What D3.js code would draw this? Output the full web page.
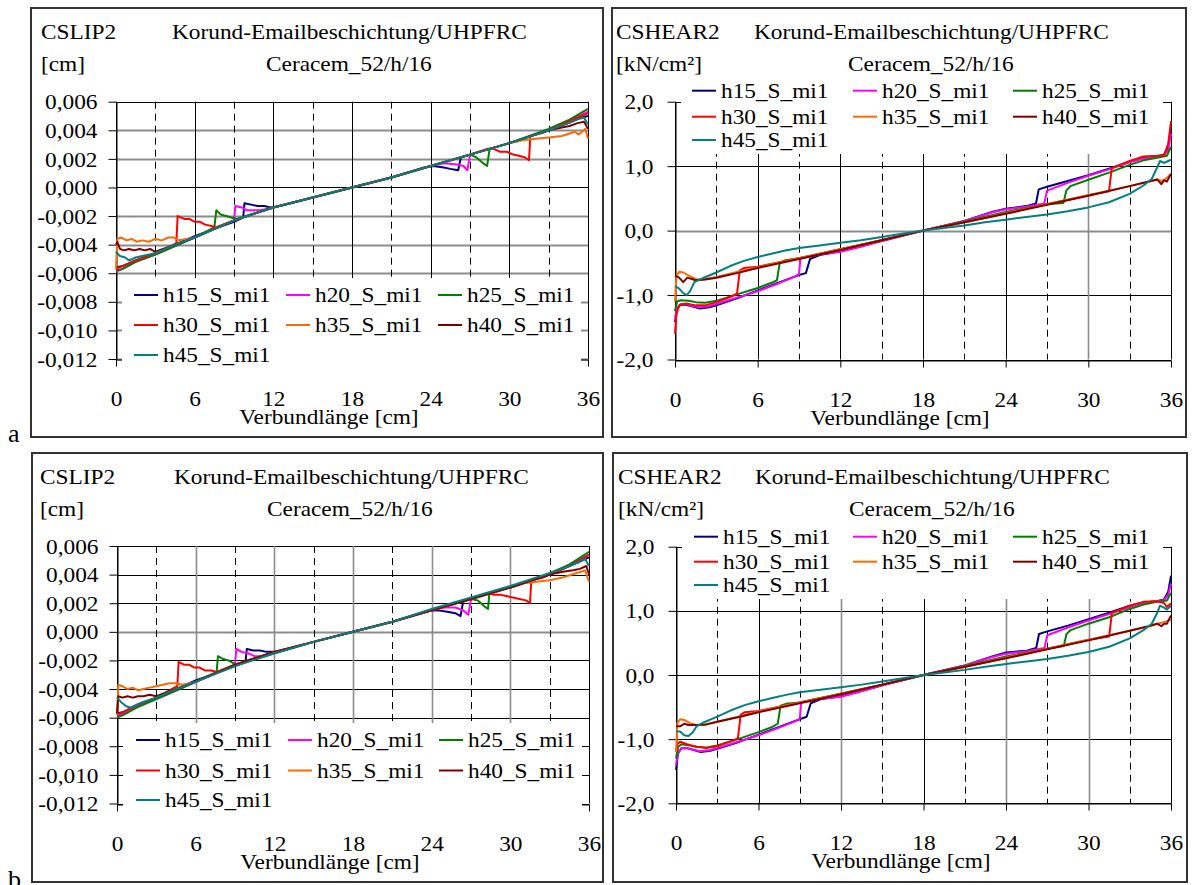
<!DOCTYPE html>
<html><head><meta charset="utf-8">
<script src="https://cdn.jsdelivr.net/npm/d3@7"></script>
<style>
body{margin:0;background:#fff}
svg{display:block}
text{font-family:"Liberation Serif","Times New Roman",serif;fill:#000}
</style>
</head><body><svg id="c" width="1193" height="885"></svg>
<script>
// ---------------- data ----------------
const xTicks = [0, 6, 12, 18, 24, 30, 36];
const xDashed = [3, 9, 15, 21, 27, 33];
const slipTicks = [0.006, 0.004, 0.002, 0, -0.002, -0.004, -0.006, -0.008, -0.010, -0.012];
const shearTicks = [2, 1, 0, -1, -2];
const seriesNames = ["h15_S_mi1", "h20_S_mi1", "h25_S_mi1", "h30_S_mi1", "h35_S_mi1", "h40_S_mi1", "h45_S_mi1"];
const seriesColors = ["#000080", "#ff00ff", "#008000", "#ff0000", "#ff6a00", "#800000", "#008080"];

// panel a, slip [cm]
const slipA_h15 = [[0,-0.0056],[0.5,-0.0055],[1.5,-0.0051],[3,-0.0046],[4.5,-0.0040],[6,-0.0034],[7.5,-0.0029],[9,-0.0024],[9.7,-0.0021],[9.8,-0.0011],[10.3,-0.0012],[10.8,-0.0013],[11.3,-0.0013],[11.8,-0.0014],[12.5,-0.0013],[15,-0.0007],[18,0],[21,0.0007],[23.5,0.0014],[24.2,0.0015],[25,0.0014],[25.5,0.0013],[26.1,0.0012],[26.3,0.0021],[27,0.0023],[30,0.0031],[33,0.0040],[34.5,0.0045],[35.5,0.0049],[36,0.0050]];
const slipA_h20 = [[0,-0.0059],[0.5,-0.0057],[1.5,-0.0052],[3,-0.0047],[4.5,-0.0041],[6,-0.0035],[7.5,-0.0029],[9,-0.0023],[9.1,-0.0013],[9.6,-0.0014],[10,-0.0016],[10.4,-0.0016],[11,-0.0016],[11.5,-0.0015],[12,-0.0014],[15,-0.0007],[18,0],[21,0.0007],[24,0.0015],[25,0.0017],[26,0.0016],[26.5,0.0015],[26.8,0.0012],[27,0.0023],[30,0.0031],[33,0.0040],[34.5,0.0046],[36,0.0053]];
const slipA_h25 = [[0,-0.0058],[0.5,-0.0057],[1.5,-0.0052],[3,-0.0047],[4.5,-0.0041],[6,-0.0035],[7.5,-0.0028],[7.65,-0.0016],[8,-0.0019],[8.4,-0.0020],[8.8,-0.0021],[9.2,-0.0022],[12,-0.0014],[15,-0.0007],[18,0],[21,0.0007],[24,0.0015],[27,0.0023],[27.5,0.0021],[28,0.0017],[28.3,0.0015],[28.5,0.0027],[30,0.0031],[33,0.0041],[34.5,0.0047],[36,0.0055]];
const slipA_h30 = [[0,-0.0057],[0.5,-0.0055],[1.5,-0.0051],[3,-0.0046],[4,-0.0042],[4.6,-0.0039],[4.7,-0.0020],[5.2,-0.0022],[5.6,-0.0022],[6,-0.0024],[6.4,-0.0024],[6.8,-0.0026],[7.3,-0.0027],[7.6,-0.0028],[9,-0.0023],[12,-0.0014],[15,-0.0007],[18,0],[21,0.0007],[24,0.0015],[27,0.0023],[28.3,0.0027],[28.8,0.0027],[29.3,0.0025],[29.8,0.0025],[30.3,0.0023],[30.8,0.0022],[31.2,0.0021],[31.5,0.0019],[31.6,0.0036],[32.5,0.0038],[33,0.0040],[34.5,0.0046],[35.5,0.0050],[36,0.0052]];
const slipA_h35 = [[0,-0.0057],[0.1,-0.0036],[0.4,-0.0035],[0.8,-0.0037],[1.2,-0.0036],[1.6,-0.0038],[2,-0.0037],[2.5,-0.0038],[3,-0.0036],[3.5,-0.0037],[4,-0.0035],[4.4,-0.0035],[4.8,-0.0037],[6,-0.0035],[9,-0.0023],[12,-0.0014],[15,-0.0007],[18,0],[21,0.0007],[24,0.0015],[27,0.0023],[30,0.0031],[31,0.0033],[32,0.0034],[33,0.0035],[34,0.0036],[35,0.0039],[35.3,0.0037],[35.8,0.0041],[36,0.0034]];
const slipA_h40 = [[0,-0.0040],[0.1,-0.0038],[0.3,-0.0043],[0.6,-0.0044],[1,-0.0043],[1.4,-0.0044],[1.8,-0.0043],[2.2,-0.0044],[2.6,-0.0043],[3,-0.0045],[4.5,-0.0040],[6,-0.0035],[9,-0.0023],[12,-0.0014],[15,-0.0007],[18,0],[21,0.0007],[24,0.0015],[27,0.0023],[30,0.0031],[33,0.0040],[34,0.0042],[34.6,0.0043],[35.2,0.0045],[35.7,0.0046],[36,0.0041]];
const slipA_h45 = [[0,-0.0045],[0.3,-0.0048],[0.7,-0.0049],[1,-0.0051],[1.5,-0.0049],[2,-0.0048],[3,-0.0046],[4.5,-0.0040],[6,-0.0035],[9,-0.0023],[12,-0.0014],[15,-0.0007],[18,0],[21,0.0007],[24,0.0015],[27,0.0023],[30,0.0031],[33,0.0040],[34.5,0.0045],[35.3,0.0048],[35.7,0.0049],[36,0.0044]];

// panel a, shear [kN/cm²]
const shearA_h15 = [[0,-1.42],[0.15,-1.22],[0.4,-1.15],[0.8,-1.15],[1.3,-1.18],[1.8,-1.21],[2.5,-1.19],[3,-1.16],[4.5,-1.05],[6,-0.93],[7.5,-0.81],[9,-0.69],[9.5,-0.66],[9.8,-0.44],[10.5,-0.38],[12,-0.32],[13.5,-0.24],[15,-0.16],[18,0],[21,0.15],[23,0.29],[24,0.34],[25.5,0.38],[26.2,0.42],[26.4,0.64],[27,0.68],[28.5,0.77],[30,0.86],[31.5,0.96],[33,1.07],[34,1.13],[35,1.15],[35.5,1.18],[35.8,1.3],[36,1.6]];
const shearA_h20 = [[0,-1.35],[0.15,-1.2],[0.4,-1.14],[0.8,-1.14],[1.3,-1.17],[1.8,-1.19],[2.5,-1.17],[3,-1.14],[4.5,-1.04],[6,-0.94],[7.5,-0.82],[8.7,-0.71],[9,-0.68],[9.1,-0.43],[10.5,-0.37],[12,-0.33],[13.5,-0.25],[15,-0.16],[18,0],[21,0.15],[23,0.28],[24,0.33],[25.5,0.37],[26.8,0.42],[27,0.62],[28.5,0.74],[30,0.85],[31.5,0.95],[33,1.06],[34,1.12],[35,1.15],[35.5,1.17],[35.8,1.25],[36,1.5]];
const shearA_h25 = [[0,-1.25],[0.15,-1.1],[0.4,-1.08],[1,-1.09],[1.5,-1.11],[2.2,-1.12],[3,-1.09],[4.5,-0.99],[6,-0.89],[7,-0.81],[7.4,-0.77],[7.6,-0.5],[8,-0.46],[9,-0.43],[12,-0.29],[15,-0.15],[18,0],[21,0.14],[24,0.29],[27,0.41],[28.2,0.43],[28.4,0.62],[28.7,0.69],[30,0.79],[31.5,0.9],[33,1.02],[34,1.09],[35,1.13],[35.7,1.16],[36,1.3]];
const shearA_h30 = [[0,-1.6],[0.1,-1.3],[0.3,-1.16],[0.8,-1.13],[1.5,-1.16],[2.2,-1.16],[3,-1.11],[4,-1.03],[4.5,-0.98],[4.7,-0.62],[5,-0.58],[6,-0.56],[9,-0.43],[12,-0.29],[15,-0.15],[18,0],[21,0.13],[24,0.27],[27,0.41],[30,0.55],[31.5,0.61],[31.7,0.97],[32.3,1.02],[33,1.08],[34,1.15],[35,1.16],[35.5,1.17],[35.8,1.35],[36,1.7]];
const shearA_h35 = [[0,-1.1],[0.1,-0.7],[0.3,-0.64],[0.6,-0.65],[1,-0.7],[1.5,-0.75],[2,-0.76],[3,-0.72],[4.5,-0.64],[6,-0.57],[7.5,-0.5],[9,-0.43],[12,-0.29],[15,-0.15],[18,0],[21,0.13],[24,0.27],[27,0.41],[30,0.55],[33,0.69],[34.5,0.76],[35,0.8],[35.3,0.77],[35.6,0.8],[36,0.88]];
const shearA_h40 = [[0,-0.7],[0.3,-0.73],[0.6,-0.8],[0.9,-0.73],[1.5,-0.77],[2.2,-0.76],[3,-0.73],[4.5,-0.66],[6,-0.58],[9,-0.44],[12,-0.3],[15,-0.15],[18,0],[21,0.13],[24,0.26],[27,0.4],[30,0.54],[33,0.69],[34.5,0.77],[35,0.79],[35.3,0.72],[35.5,0.78],[35.7,0.76],[36,0.88]];
const shearA_h45 = [[0,-0.86],[0.3,-0.9],[0.6,-0.97],[0.85,-1.0],[1.1,-0.94],[1.4,-0.8],[2,-0.74],[3,-0.65],[4,-0.55],[5,-0.47],[6,-0.41],[7,-0.36],[8,-0.31],[9,-0.27],[10.5,-0.23],[12,-0.19],[13.5,-0.15],[15,-0.1],[16.5,-0.05],[18,0],[19.5,0.04],[21,0.08],[22.5,0.13],[24,0.17],[25.5,0.21],[27,0.25],[28.5,0.3],[30,0.36],[31.5,0.44],[33,0.57],[34,0.7],[34.6,0.8],[35,0.98],[35.2,1.08],[35.5,1.05],[35.8,1.08],[36,1.1]];

// panel b, slip [cm]
const slipB_h15 = [[0,-0.0057],[0.5,-0.0056],[1.5,-0.0052],[3,-0.0046],[4.5,-0.0040],[6,-0.0034],[7.5,-0.0029],[9,-0.0024],[9.8,-0.0021],[9.9,-0.0012],[10.4,-0.0013],[10.9,-0.0013],[11.4,-0.0014],[12,-0.0014],[13,-0.0012],[15,-0.0007],[18,0],[21,0.0007],[23.8,0.0015],[24.5,0.0015],[25.2,0.0014],[25.8,0.0013],[26.2,0.0011],[26.4,0.0021],[27,0.0023],[30,0.0031],[33,0.0040],[34.5,0.0046],[35.5,0.0050],[36,0.0052]];
const slipB_h20 = [[0,-0.0059],[0.5,-0.0057],[1.5,-0.0052],[3,-0.0047],[4.5,-0.0041],[6,-0.0035],[7.5,-0.0029],[9,-0.0023],[9.1,-0.0012],[9.5,-0.0014],[10,-0.0015],[10.5,-0.0017],[11,-0.0017],[11.5,-0.0016],[12,-0.0015],[15,-0.0007],[18,0],[21,0.0007],[24,0.0015],[25,0.0017],[25.8,0.0017],[26.4,0.0015],[26.8,0.0012],[27,0.0023],[30,0.0031],[33,0.0040],[34.5,0.0047],[36,0.0054]];
const slipB_h25 = [[0,-0.0060],[0.5,-0.0058],[1.5,-0.0053],[3,-0.0047],[4.5,-0.0041],[6,-0.0035],[7.6,-0.0028],[7.7,-0.0017],[8.1,-0.0019],[8.5,-0.0020],[8.9,-0.0022],[9.2,-0.0023],[12,-0.0015],[15,-0.0007],[18,0],[21,0.0007],[24,0.0015],[27,0.0023],[27.5,0.0022],[28,0.0018],[28.3,0.0016],[28.4,0.0027],[30,0.0031],[33,0.0041],[34.5,0.0047],[36,0.0056]];
const slipB_h30 = [[0,-0.0058],[0.5,-0.0056],[1.5,-0.0051],[3,-0.0046],[4,-0.0041],[4.6,-0.0038],[4.7,-0.0021],[5.1,-0.0023],[5.5,-0.0023],[5.9,-0.0025],[6.3,-0.0025],[6.7,-0.0027],[7.2,-0.0027],[7.6,-0.0028],[9,-0.0023],[12,-0.0014],[15,-0.0007],[18,0],[21,0.0007],[24,0.0015],[27,0.0023],[28.2,0.0027],[28.7,0.0026],[29.2,0.0026],[29.7,0.0025],[30.2,0.0024],[30.7,0.0023],[31.2,0.0022],[31.5,0.0020],[31.6,0.0036],[32.5,0.0038],[33,0.0040],[34.5,0.0046],[35.5,0.0051],[36,0.0054]];
const slipB_h35 = [[0,-0.0058],[0.1,-0.0037],[0.4,-0.0038],[0.8,-0.0040],[1.2,-0.0039],[1.6,-0.0041],[2,-0.0040],[2.5,-0.0039],[3,-0.0038],[3.5,-0.0037],[4,-0.0036],[4.5,-0.0036],[5,-0.0037],[6,-0.0035],[9,-0.0023],[12,-0.0014],[15,-0.0007],[18,0],[21,0.0007],[24,0.0015],[27,0.0023],[30,0.0031],[31,0.0034],[32,0.0035],[33,0.0036],[34,0.0038],[35,0.0041],[35.4,0.0042],[35.7,0.0043],[36,0.0035]];
const slipB_h40 = [[0,-0.0057],[0.1,-0.0045],[0.4,-0.0046],[0.8,-0.0045],[1.2,-0.0046],[1.6,-0.0045],[2,-0.0045],[2.5,-0.0044],[3,-0.0045],[4.5,-0.0040],[6,-0.0035],[9,-0.0023],[12,-0.0014],[15,-0.0007],[18,0],[21,0.0007],[24,0.0015],[27,0.0023],[30,0.0031],[33,0.0040],[34,0.0042],[34.8,0.0043],[35.3,0.0044],[35.8,0.0046],[36,0.0040]];
const slipB_h45 = [[0,-0.0046],[0.3,-0.0049],[0.7,-0.0052],[1,-0.0053],[1.5,-0.0051],[2,-0.0049],[3,-0.0046],[4.5,-0.0040],[6,-0.0035],[9,-0.0024],[12,-0.0015],[15,-0.0007],[18,0],[21,0.0007],[24,0.0016],[27,0.0024],[30,0.0032],[33,0.0041],[34.5,0.0046],[35.3,0.0049],[35.7,0.0051],[36,0.0046]];

// panel b, shear [kN/cm²]
const shearB_h15 = [[0,-1.48],[0.15,-1.22],[0.4,-1.14],[0.8,-1.14],[1.3,-1.17],[1.8,-1.2],[2.5,-1.18],[3,-1.15],[4.5,-1.05],[6,-0.93],[7.5,-0.81],[9,-0.69],[9.5,-0.65],[9.8,-0.44],[10.5,-0.38],[12,-0.33],[13.5,-0.25],[15,-0.16],[18,0],[21,0.15],[23,0.29],[24,0.35],[25.5,0.38],[26.2,0.42],[26.4,0.64],[27,0.68],[28.5,0.77],[30,0.87],[31.5,0.97],[33,1.08],[34,1.13],[35,1.15],[35.5,1.18],[35.8,1.3],[36,1.55]];
const shearB_h20 = [[0,-1.4],[0.15,-1.2],[0.4,-1.14],[0.8,-1.14],[1.3,-1.17],[1.8,-1.19],[2.5,-1.17],[3,-1.14],[4.5,-1.04],[6,-0.94],[7.5,-0.82],[8.7,-0.72],[9,-0.68],[9.1,-0.43],[10.5,-0.37],[12,-0.34],[13.5,-0.25],[15,-0.16],[18,0],[21,0.15],[23,0.28],[24,0.33],[25.5,0.37],[26.8,0.42],[27,0.62],[28.5,0.74],[30,0.85],[31.5,0.95],[33,1.06],[34,1.13],[35,1.15],[35.5,1.17],[35.8,1.25],[36,1.42]];
const shearB_h25 = [[0,-1.3],[0.15,-1.12],[0.4,-1.08],[1,-1.1],[1.5,-1.12],[2.2,-1.13],[3,-1.1],[4.5,-1.0],[6,-0.89],[7,-0.81],[7.4,-0.76],[7.6,-0.48],[8,-0.45],[9,-0.43],[12,-0.29],[15,-0.15],[18,0],[21,0.14],[24,0.29],[27,0.41],[28.2,0.45],[28.4,0.64],[28.7,0.7],[30,0.8],[31.5,0.9],[33,1.03],[34,1.1],[35,1.14],[35.7,1.16],[36,1.28]];
const shearB_h30 = [[0,-1.2],[0.1,-1.08],[0.3,-1.04],[0.8,-1.08],[1.5,-1.12],[2.2,-1.14],[3,-1.11],[4,-1.03],[4.5,-0.99],[4.7,-0.62],[5,-0.58],[6,-0.56],[9,-0.43],[12,-0.29],[15,-0.15],[18,0],[21,0.13],[24,0.27],[27,0.41],[30,0.55],[31.5,0.6],[31.7,0.97],[32.3,1.02],[33,1.08],[34,1.14],[35,1.15],[35.5,1.12],[35.7,1.06],[36,1.12]];
const shearB_h35 = [[0,-1.2],[0.1,-0.75],[0.3,-0.69],[0.6,-0.7],[1,-0.75],[1.5,-0.78],[2,-0.78],[3,-0.73],[4.5,-0.65],[6,-0.57],[7.5,-0.5],[9,-0.43],[12,-0.29],[15,-0.15],[18,0],[21,0.13],[24,0.27],[27,0.41],[30,0.55],[33,0.69],[34.5,0.76],[35,0.8],[35.4,0.82],[35.7,0.84],[36,0.86]];
const shearB_h40 = [[0,-0.8],[0.3,-0.8],[0.6,-0.76],[0.9,-0.78],[1.5,-0.78],[2.2,-0.77],[3,-0.73],[4.5,-0.66],[6,-0.58],[9,-0.44],[12,-0.3],[15,-0.15],[18,0],[21,0.13],[24,0.26],[27,0.4],[30,0.54],[33,0.69],[34.5,0.77],[35,0.8],[35.3,0.76],[35.5,0.8],[35.7,0.8],[36,0.93]];
const shearB_h45 = [[0,-0.88],[0.3,-0.88],[0.6,-0.94],[0.9,-0.95],[1.2,-0.9],[1.5,-0.8],[2,-0.74],[3,-0.65],[4,-0.55],[5,-0.47],[6,-0.41],[7,-0.36],[8,-0.31],[9,-0.27],[10.5,-0.23],[12,-0.19],[13.5,-0.15],[15,-0.1],[16.5,-0.05],[18,0],[19.5,0.04],[21,0.08],[22.5,0.13],[24,0.17],[25.5,0.21],[27,0.25],[28.5,0.3],[30,0.36],[31.5,0.44],[33,0.57],[34,0.7],[34.6,0.8],[35,0.97],[35.2,1.08],[35.5,1.05],[35.7,1.02],[36,1.08]];

const slipA = [slipA_h15, slipA_h20, slipA_h25, slipA_h30, slipA_h35, slipA_h40, slipA_h45];
const shearA = [shearA_h15, shearA_h20, shearA_h25, shearA_h30, shearA_h35, shearA_h40, shearA_h45];
const slipB = [slipB_h15, slipB_h20, slipB_h25, slipB_h30, slipB_h35, slipB_h40, slipB_h45];
const shearB = [shearB_h15, shearB_h20, shearB_h25, shearB_h30, shearB_h35, shearB_h40, shearB_h45];

// ---------------- layout ----------------
const FS = 21, SX = 1.11;
const de = d3.formatLocale({decimal: ",", thousands: ".", grouping: [3], currency: ["", "€"], minus: "-"});
const BLACK = "#000", GRAY = "#8c8c8c";

const panels = [
  {data: slipA, ticks: slipTicks, dom: [-0.012, 0.006], fmt: ".3f", frame: [31, 8, 603, 437],
   x0: 116, x1: 588, yT: 101.7, yB: 359, labX: -19,
   title: "CSLIP2", unit: "[cm]", tX: 41, korX: 172, cerX: 266, tY: 39, uY: 71, xlabC: 329,
   leg: {box: [122, 278, 581, 370], rows: [295, 325, 355], cols: [134, 286, 438]},
   hGray: v => v !== 0.006 && v !== 0, vGray: v => false},
  {data: shearA, ticks: shearTicks, dom: [-2, 2], fmt: ".1f", frame: [612, 8, 1186, 437],
   x0: 675, x1: 1171, yT: 101.7, yB: 359.5, labX: -22,
   title: "CSHEAR2", unit: "[kN/cm²]", tX: 616, korX: 754, cerX: 848, tY: 39, uY: 71, xlabC: 900,
   leg: {box: [681, 78, 1163, 154], rows: [90.7, 116.7, 140], cols: [692, 853, 1013]},
   hGray: v => v === 0, vGray: v => v === 30},
  {data: slipB, ticks: slipTicks, dom: [-0.012, 0.006], fmt: ".3f", frame: [32, 453, 603, 882],
   x0: 117, x1: 589, yT: 546, yB: 803.5, labX: -19,
   title: "CSLIP2", unit: "[cm]", tX: 40, korX: 174, cerX: 267, tY: 484, uY: 516, xlabC: 330,
   leg: {box: [123, 723, 582, 815], rows: [740, 770.5, 800], cols: [136, 288, 439]},
   hGray: v => v === 0, vGray: v => v > 0 && v < 36},
  {data: shearB, ticks: shearTicks, dom: [-2, 2], fmt: ".1f", frame: [613, 453, 1187, 882],
   x0: 676, x1: 1171, yT: 546.7, yB: 803.3, labX: -22,
   title: "CSHEAR2", unit: "[kN/cm²]", tX: 618, korX: 755, cerX: 849, tY: 484, uY: 516, xlabC: 901,
   leg: {box: [682, 523, 1163, 599], rows: [536.7, 561.7, 585], cols: [694, 853, 1013]},
   hGray: v => false, vGray: v => v === 12 || v === 24 || v === 30}
];

const svg = d3.select("#c");

function stretch(sel) {
  sel.each(function () {
    const w = this.getComputedTextLength();
    d3.select(this).attr("textLength", w * SX).attr("lengthAdjust", "spacingAndGlyphs");
  });
}

panels.forEach(p => {
  const g = svg.append("g");
  const [fx0, fy0, fx1, fy1] = p.frame;
  g.append("rect").attr("x", fx0).attr("y", fy0).attr("width", fx1 - fx0).attr("height", fy1 - fy0)
    .attr("fill", "#fff").attr("stroke", "#333").attr("stroke-width", 2);

  const x = d3.scaleLinear().domain([0, 36]).range([p.x0, p.x1]);
  const y = d3.scaleLinear().domain(p.dom).range([p.yB, p.yT]);

  // horizontal gridlines
  g.append("g").selectAll("line").data(p.ticks).join("line")
    .attr("x1", p.x0).attr("x2", p.x1)
    .attr("y1", d => Math.round(y(d)) + 0.5).attr("y2", d => Math.round(y(d)) + 0.5)
    .attr("stroke", d => p.hGray(d) ? GRAY : BLACK)
    .attr("stroke-width", d => p.hGray(d) ? 1.8 : 1);
  // vertical solid gridlines
  g.append("g").selectAll("line").data(xTicks).join("line")
    .attr("x1", d => Math.round(x(d)) + 0.5).attr("x2", d => Math.round(x(d)) + 0.5)
    .attr("y1", p.yT).attr("y2", p.yB)
    .attr("stroke", d => p.vGray(d) ? GRAY : BLACK)
    .attr("stroke-width", d => p.vGray(d) ? 1.6 : 1);
  // vertical dashed gridlines
  g.append("g").selectAll("line").data(xDashed).join("line")
    .attr("x1", d => Math.round(x(d)) + 0.5).attr("x2", d => Math.round(x(d)) + 0.5)
    .attr("y1", p.yT).attr("y2", p.yB)
    .attr("stroke", BLACK).attr("stroke-width", 1).attr("stroke-dasharray", "7,5");

  // axes
  const ya = g.append("g").attr("transform", `translate(${Math.round(p.x0) + 0.5},0)`)
    .call(d3.axisLeft(y).tickValues(p.ticks).tickSize(8).tickSizeOuter(0).tickFormat(de.format(p.fmt)));
  ya.select(".domain").attr("stroke", BLACK);
  ya.selectAll("line").attr("stroke", BLACK);
  ya.selectAll("text").attr("x", p.labX).attr("dy", "0.34em")
    .style("font-family", '"Liberation Serif",serif').style("font-size", FS + "px");

  const xa = g.append("g").attr("transform", `translate(0,${Math.round(p.yB) + 0.5})`)
    .call(d3.axisBottom(x).tickValues(xTicks).tickSize(7).tickSizeOuter(0).tickFormat(d3.format("d")));
  xa.select(".domain").attr("stroke", BLACK);
  xa.selectAll("line").attr("stroke", BLACK);
  xa.selectAll("text").attr("y", 46).attr("dy", 0)
    .style("font-family", '"Liberation Serif",serif').style("font-size", FS + "px");

  // series
  const line = d3.line().x(d => x(d[0])).y(d => y(d[1]));
  g.append("g").selectAll("path").data(p.data).join("path")
    .attr("d", line).attr("fill", "none")
    .attr("stroke", (d, i) => seriesColors[i]).attr("stroke-width", 2)
    .attr("stroke-linejoin", "round");

  // legend
  const [lx0, ly0, lx1, ly1] = p.leg.box;
  g.append("rect").attr("x", lx0).attr("y", ly0).attr("width", lx1 - lx0).attr("height", ly1 - ly0).attr("fill", "#fff");
  const items = g.append("g").selectAll("g").data(seriesNames).join("g")
    .attr("transform", (d, i) => `translate(${p.leg.cols[i % 3]},${p.leg.rows[Math.floor(i / 3)]})`);
  items.append("line").attr("x1", 0).attr("x2", 24).attr("y1", 0).attr("y2", 0)
    .attr("stroke", (d, i) => seriesColors[i]).attr("stroke-width", 2);
  items.append("text").attr("x", 29).attr("y", 7).style("font-size", FS + "px").text(d => d);

  // axis titles / headings
  const txt = (tx, ty, s, anchor) => g.append("text").attr("x", tx).attr("y", ty)
    .attr("text-anchor", anchor || "start").style("font-size", FS + "px").text(s);
  txt(p.tX, p.tY, p.title);
  txt(p.korX, p.tY, "Korund-Emailbeschichtung/UHPFRC");
  txt(p.tX, p.uY, p.unit);
  txt(p.cerX, p.uY, "Ceracem_52/h/16");
  txt(p.xlabC, p.yB + 65, "Verbundlänge [cm]", "middle");

  stretch(g.selectAll("text"));
});

svg.append("text").attr("x", 8).attr("y", 442).style("font-size", "26px").text("a");
svg.append("text").attr("x", 8).attr("y", 888).style("font-size", "26px").text("b");
</script></body></html>
